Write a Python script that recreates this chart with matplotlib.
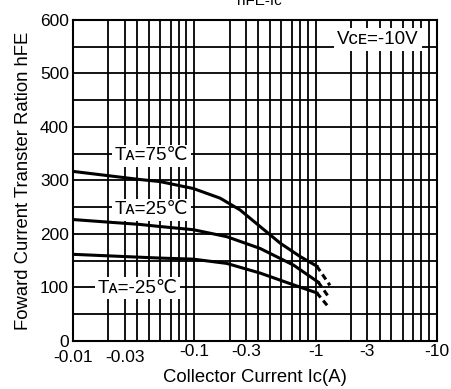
import matplotlib
matplotlib.use('Agg')
import matplotlib.pyplot as plt
import matplotlib.transforms as mtransforms

plt.rcParams['font.family'] = ['Liberation Sans', 'DejaVu Sans']

# collector current (A, magnitude) / hFE
ic_75 = [0.01, 0.035, 0.052, 0.098, 0.163, 0.238, 0.348, 0.509, 0.743, 1.02]
hfe_75 = [317, 302, 298, 285, 267, 245, 214, 183, 158, 140]
ic_75_dash = [1.02, 1.31]
hfe_75_dash = [140, 104]

ic_25 = [0.01, 0.035, 0.052, 0.098, 0.185, 0.348, 0.655, 1.05]
hfe_25 = [227, 218, 214, 208, 195, 173, 142, 110]
ic_25_dash = [1.05, 1.3]
hfe_25_dash = [110, 80]

ic_m25 = [0.01, 0.052, 0.098, 0.185, 0.348, 0.655, 1.02]
hfe_m25 = [162, 155, 153, 145, 127, 105, 90]
ic_m25_dash = [1.02, 1.25]
hfe_m25_dash = [90, 66]

decades = [-2, -1, 0]
# grid lines inside each decade (fraction of a decade, as drawn on the sheet)
grid_frac = [0.29, 0.425, 0.527, 0.623, 0.717, 0.804, 0.871, 0.934]
xtick_labels = ['-0.01', '-0.03', '-0.1', '-0.3', '-1', '-3', '-10']
ytick_vals = [0, 100, 200, 300, 400, 500, 600]

fig = plt.figure(figsize=(4.51, 3.89), dpi=100)
ax = fig.add_axes([0.1619, 0.1234, 0.8071, 0.8252])

lw = 2.2
ax.plot(ic_75, hfe_75, color='black', lw=lw, zorder=3)
ax.plot(ic_25, hfe_25, color='black', lw=lw, zorder=3)
ax.plot(ic_m25, hfe_m25, color='black', lw=lw, zorder=3)
for x, y in [(ic_75_dash, hfe_75_dash), (ic_25_dash, hfe_25_dash), (ic_m25_dash, hfe_m25_dash)]:
    ax.plot(x, y, color='black', lw=lw, ls=(0, (2, 1.3)), zorder=3)

ax.set_xscale('log')
ax.set_xlim(0.01, 10)
ax.set_ylim(0, 600)

major = []
minor = []
for d in decades:
    major.append(10.0 ** d)
    major.append(10.0 ** (d + grid_frac[1]))
    for i, f in enumerate(grid_frac):
        if i != 1:
            minor.append(10.0 ** (d + f))
major.append(10.0)
ax.set_xticks(major)
ax.set_xticklabels(xtick_labels)
ax.set_xticks(minor, minor=True)
ax.set_yticks(ytick_vals)
ax.set_yticks([50, 150, 250, 350, 450, 550], minor=True)

ax.grid(which='both', color='black', lw=1.3, zorder=1)
ax.tick_params(which='both', length=0, labelsize=12.5, colors='black')
ax.tick_params(axis='x', pad=2)
ax.tick_params(axis='y', pad=3)
for sp in ax.spines.values():
    sp.set_linewidth(1.5)

# the first two x labels sit a bit lower on the sheet
xl = ax.get_xticklabels()
for lab in xl[:2]:
    lab.set_transform(lab.get_transform() + mtransforms.ScaledTranslation(0, -6 / 100, fig.dpi_scale_trans))

box = dict(facecolor='white', edgecolor='none', pad=2)
ax.text(0.044, 346, 'Tᴀ=75℃', fontsize=13.5, ha='center', va='center', bbox=box, zorder=4)
ax.text(0.044, 245, 'Tᴀ=25℃', fontsize=13.5, ha='center', va='center', bbox=box, zorder=4)
ax.text(0.034, 99, 'Tᴀ=-25℃', fontsize=13.5, ha='center', va='center', bbox=box, zorder=4)
ax.text(3.27, 563, 'Vᴄᴇ=-10V', fontsize=13.5, ha='center', va='center', bbox=box, zorder=4)

ax.set_xlabel('Collector Current Ic(A)', fontsize=13.3, labelpad=3)
ax.set_ylabel('Foward Current Transter Ration hFE', fontsize=13.3, labelpad=6)
fig.text(259 / 451, 1 - 5 / 389, 'hFE-Ic', ha='center', va='baseline', fontsize=11)

fig.savefig('out.png', dpi=100)
